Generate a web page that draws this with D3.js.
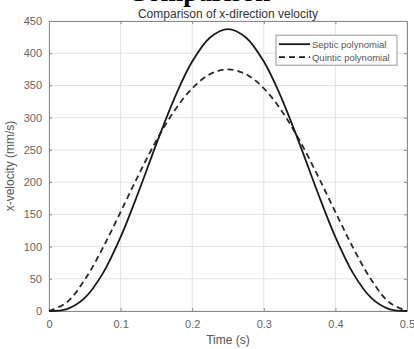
<!DOCTYPE html>
<html>
<head>
<meta charset="utf-8">
<script src="https://cdn.jsdelivr.net/npm/d3@7"></script>
<style>
  body { margin: 0; background: #fff; }
  text { font-family: "Liberation Sans", Arial, sans-serif; }
</style>
</head>
<body>
<div id="chart"></div>
<script>
// data
var times = [0, 0.025, 0.05, 0.075, 0.1, 0.125, 0.15, 0.175, 0.2, 0.225, 0.25,
             0.275, 0.3, 0.325, 0.35, 0.375, 0.4, 0.425, 0.45, 0.475, 0.5];
var septic = [0, 3, 20.4, 58, 114.7, 184.6, 259.3, 329.7, 387.1, 424.5, 437.5,
              424.5, 387.1, 329.7, 259.3, 184.6, 114.7, 58, 20.4, 3, 0];
var quintic = [0, 13.5, 48.6, 97.5, 153.6, 210.9, 264.6, 310.5, 345.6, 367.5, 375,
               367.5, 345.6, 310.5, 264.6, 210.9, 153.6, 97.5, 48.6, 13.5, 0];
var xTicks = [0, 0.1, 0.2, 0.3, 0.4, 0.5];
var yTicks = [0, 50, 100, 150, 200, 250, 300, 350, 400, 450];
var seriesNames = ["Septic polynomial", "Quintic polynomial"];

var svgWidth = 414;
var svgHeight = 349;
var margin = { top: 21, right: 7, bottom: 38, left: 49 };
var width = svgWidth - margin.left - margin.right;
var height = svgHeight - margin.top - margin.bottom;

var svg = d3.select("#chart")
  .append("svg")
  .attr("width", svgWidth)
  .attr("height", svgHeight);

// cropped caption from the page above the figure (only its lower edge shows)
svg.append("text")
  .attr("x", 199)
  .attr("y", 1)
  .attr("text-anchor", "middle")
  .style("font-family", "'Liberation Serif', 'Times New Roman', serif")
  .style("font-weight", "bold")
  .style("font-size", "27px")
  .attr("fill", "#000")
  .text("Comparison");

var chartGroup = svg.append("g")
  .attr("transform", `translate(${margin.left}, ${margin.top})`);

var xScale = d3.scaleLinear().domain([0, 0.5]).range([0, width]);
var yScale = d3.scaleLinear().domain([0, 450]).range([height, 0]);

// grid
chartGroup.append("g")
  .selectAll("line")
  .data(xTicks)
  .enter()
  .append("line")
  .attr("x1", d => xScale(d))
  .attr("x2", d => xScale(d))
  .attr("y1", 0)
  .attr("y2", height)
  .attr("stroke", "#e3e3e3")
  .attr("stroke-width", 1);

chartGroup.append("g")
  .selectAll("line")
  .data(yTicks)
  .enter()
  .append("line")
  .attr("x1", 0)
  .attr("x2", width)
  .attr("y1", d => yScale(d))
  .attr("y2", d => yScale(d))
  .attr("stroke", "#e3e3e3")
  .attr("stroke-width", 1);

// axes (ticks point inward, MATLAB style)
var bottomAxis = d3.axisBottom(xScale).tickValues(xTicks).tickSizeInner(-3).tickSizeOuter(0)
  .tickPadding(9).tickFormat(d3.format("~g"));
var leftAxis = d3.axisLeft(yScale).tickValues(yTicks).tickSizeInner(-3).tickSizeOuter(0)
  .tickPadding(7);
var topAxis = d3.axisTop(xScale).tickValues(xTicks).tickSizeInner(-3).tickSizeOuter(0).tickFormat("");
var rightAxis = d3.axisRight(yScale).tickValues(yTicks).tickSizeInner(-3).tickSizeOuter(0).tickFormat("");

var axes = [
  chartGroup.append("g").attr("transform", `translate(0, ${height})`).call(bottomAxis),
  chartGroup.append("g").call(leftAxis),
  chartGroup.append("g").call(topAxis),
  chartGroup.append("g").attr("transform", `translate(${width}, 0)`).call(rightAxis)
];
axes.forEach(function(a) {
  a.selectAll("path").attr("stroke", "#8a8a8a").attr("stroke-width", 1);
  a.selectAll("line").attr("stroke", "#8a8a8a");
  a.selectAll("text")
    .style("font-family", "'Liberation Sans', Arial, sans-serif")
    .style("font-size", "11px")
    .attr("fill", "#666");
});

// lines
var lineGen = function(values) {
  return d3.line()
    .x((d, i) => xScale(times[i]))
    .y(d => yScale(d))
    .curve(d3.curveCatmullRom)(values);
};

chartGroup.append("path")
  .attr("d", lineGen(quintic))
  .attr("fill", "none")
  .attr("stroke", "#2a2a2a")
  .attr("stroke-width", 1.8)
  .attr("stroke-dasharray", "6,4");

chartGroup.append("path")
  .attr("d", lineGen(septic))
  .attr("fill", "none")
  .attr("stroke", "#1a1a1a")
  .attr("stroke-width", 1.8);

// title
chartGroup.append("text")
  .attr("x", width / 2)
  .attr("y", -3)
  .attr("text-anchor", "middle")
  .style("font-size", "12px")
  .attr("fill", "#333")
  .text("Comparison of x-direction velocity");

// axis labels
chartGroup.append("text")
  .attr("x", width / 2)
  .attr("y", height + 33)
  .attr("text-anchor", "middle")
  .style("font-size", "12px")
  .attr("fill", "#555")
  .text("Time (s)");

chartGroup.append("text")
  .attr("transform", "rotate(-90)")
  .attr("x", -height / 2)
  .attr("y", -35)
  .attr("text-anchor", "middle")
  .style("font-size", "12px")
  .attr("fill", "#555")
  .text("x-velocity (mm/s)");

// legend
var legend = chartGroup.append("g")
  .attr("transform", `translate(${xScale(0.317)}, ${yScale(428)})`);

legend.append("rect")
  .attr("width", 121)
  .attr("height", 30)
  .attr("fill", "#fff")
  .attr("stroke", "#999")
  .attr("stroke-width", 1);

seriesNames.forEach(function(name, i) {
  var row = legend.append("g").attr("transform", `translate(0, ${9 + i * 13})`);
  row.append("line")
    .attr("x1", 3)
    .attr("x2", 34)
    .attr("y1", 0)
    .attr("y2", 0)
    .attr("stroke", "#1a1a1a")
    .attr("stroke-width", 1.8)
    .attr("stroke-dasharray", i === 1 ? "6,4" : null);
  row.append("text")
    .attr("x", 36)
    .attr("y", 3.5)
    .style("font-size", "9.5px")
    .attr("fill", "#555")
    .text(name);
});
</script>
</body>
</html>
